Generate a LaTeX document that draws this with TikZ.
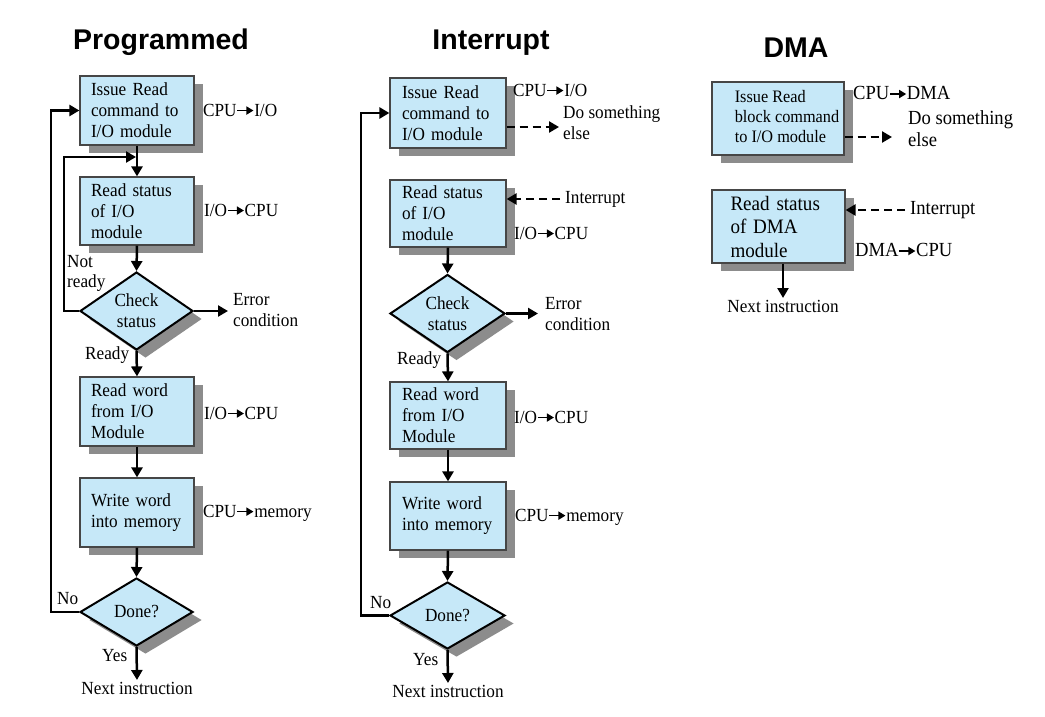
\documentclass[tikz,border=0pt]{standalone}
\usepackage{fontspec}
\setmainfont{Liberation Serif}[FakeStretch=0.93]
\newfontfamily\titlefont{Liberation Sans}
\usetikzlibrary{arrows.meta,shapes.geometric,shadows}
\definecolor{boxblue}{RGB}{198,232,248}
\definecolor{shadowgray}{RGB}{140,140,140}
\definecolor{boxedge}{RGB}{70,70,70}
\newcommand{\rarr}{\tikz[baseline={(0pt,-5.5pt)}]\draw[line width=1.6pt,-{Triangle[length=7pt,width=8pt]}] (0pt,0pt) -- (16pt,0pt);}
\newcommand{\nohyph}{\hyphenpenalty 10000\relax}
\tikzset{
  myshadow/.style={drop shadow={shadow xshift=9pt, shadow yshift=-8pt, fill=shadowgray, opacity=1}},
  procbox/.style={rectangle, draw=boxedge, line width=1.2pt, fill=boxblue, inner sep=0pt,
    align=left, font=\fontsize{18.5}{21}\selectfont\nohyph, myshadow},
  decision/.style={diamond, draw=black, line width=2pt, fill=boxblue, inner sep=0pt,
    align=center, font=\fontsize{18.5}{21}\selectfont, myshadow},
  flow/.style={line width=2.5pt, -{Triangle[length=10pt,width=11pt]}},
  dashflow/.style={flow, dash pattern=on 8pt off 5pt},
  lbl/.style={anchor=west, inner sep=0pt, align=left, font=\fontsize{18.5}{21}\selectfont},
  biglbl/.style={anchor=west, inner sep=0pt, align=left, font=\fontsize{20}{22}\selectfont},
  nextlbl/.style={anchor=north, inner sep=2pt, font=\fontsize{18.5}{21}\selectfont},
  ttl/.style={anchor=base, inner sep=0pt, font=\titlefont\bfseries\fontsize{28.5}{34}\selectfont},
}
\begin{document}
\begin{tikzpicture}[x=1pt,y=-1pt]
\useasboundingbox[fill=white] (0,0) rectangle (1045,717);

% titles
\node[ttl] (t1) at (161,49.5) {Programmed};
\node[ttl] (t2) at (491,49.5) {Interrupt};
\node[ttl] (t3) at (796,57.5) {DMA};

% ================= Programmed =================
\node[procbox, minimum width=114pt, minimum height=69pt, text width=92pt] (P1) at (137,110.5) {Issue Read\\command to\\I/O module};
\node[procbox, minimum width=114pt, minimum height=68pt, text width=92pt] (P2) at (137,211) {Read status\\of I/O\\module};
\node[decision, minimum width=113pt, minimum height=68pt] (PD1) at (136.5,311) {Check\\status};
\node[procbox, minimum width=114pt, minimum height=69pt, text width=92pt] (P3) at (137,411.5) {Read word\\from I/O\\Module};
\node[procbox, minimum width=114pt, minimum height=69pt, text width=92pt] (P4) at (137,512.5) {Write word\\into memory};
\node[decision, minimum width=113pt, minimum height=68pt] (PD2) at (136.5,612) {Done?};
\node[nextlbl] (Pnext) at (137,680) {Next instruction};

\node[lbl] (pl1) at (203,110) {CPU\rarr I/O};
\node[lbl] (pl2) at (204,210) {I/O\rarr CPU};
\node[lbl] (pl3) at (204,413) {I/O\rarr CPU};
\node[lbl] (pl4) at (203,513) {CPU\rarr memory};
\node[lbl, inner xsep=5pt] (perr) at (228,310.5) {Error\\condition};
\node[lbl, font=\fontsize{18.5}{20}\selectfont] (pnr) at (67,273) {Not\\ready};
\node[lbl] (prdy) at (85,355) {Ready};
\node[lbl] (pno) at (57,599) {No};
\node[lbl] (pyes) at (102,656) {Yes};

\coordinate (pjoin) at (137,157);
\draw[flow] (P1.south) -- (P2.north);
\draw[flow] (P2.south) -- (PD1.north);
\draw[flow] (PD1.south) -- (P3.north);
\draw[flow] (P3.south) -- (P4.north);
\draw[flow] (P4.south) -- (PD2.north);
\draw[flow] (PD2.south) -- (Pnext.north);
\draw[flow] (PD1.east) -- (PD1.east -| perr.west);
\draw[flow, shorten >=1pt] (PD1.west) -- ++(-15,0) |- (pjoin);
\draw[flow] (PD2.west) -- ++(-28,0) |- (P1.west);

% ================= Interrupt =================
\node[procbox, minimum width=116pt, minimum height=70pt, text width=92pt] (I1) at (448,113) {Issue Read\\command to\\I/O module};
\node[procbox, minimum width=116pt, minimum height=67pt, text width=92pt] (I2) at (448,213.5) {Read status\\of I/O\\module};
\node[decision, minimum width=115pt, minimum height=67pt] (ID1) at (447.5,313.5) {Check\\status};
\node[procbox, minimum width=116pt, minimum height=67pt, text width=92pt] (I3) at (448,415.5) {Read word\\from I/O\\Module};
\node[procbox, minimum width=116pt, minimum height=68pt, text width=92pt] (I4) at (448,516) {Write word\\into memory};
\node[decision, minimum width=115pt, minimum height=67pt] (ID2) at (447.5,615.5) {Done?};
\node[nextlbl] (Inext) at (448,683) {Next instruction};

\node[lbl] (il1) at (513,90) {CPU\rarr I/O};
\node[lbl, inner xsep=4pt] (isom) at (559,122.5) {Do something\\else};
\node[lbl, inner xsep=5pt] (iint) at (560,199) {Interrupt};
\node[lbl] (il2) at (514,233) {I/O\rarr CPU};
\node[lbl] (il3) at (514,417) {I/O\rarr CPU};
\node[lbl] (il4) at (515,517) {CPU\rarr memory};
\node[lbl, inner xsep=7pt] (ierr) at (538,314) {Error\\condition};
\node[lbl] (irdy) at (397,360) {Ready};
\node[lbl] (ino) at (370,603) {No};
\node[lbl] (iyes) at (413,660) {Yes};

\draw[dashflow] ([yshift=-14pt]I1.east) -- ([yshift=-14pt]I1.east -| isom.west);
\draw[dashflow] (iint.west) -- (iint.west -| I2.east);
\draw[flow] (I2.south) -- (ID1.north);
\draw[flow] (ID1.south) -- (I3.north);
\draw[flow] (I3.south) -- (I4.north);
\draw[flow] (I4.south) -- (ID2.north);
\draw[flow] (ID2.south) -- (Inext.north);
\draw[flow] (ID1.east) -- (ID1.east -| ierr.west);
\draw[flow] (ID2.west) -- ++(-28,0) |- (I1.west);

% ================= DMA =================
\node[procbox, align=none, minimum width=132pt, minimum height=73pt, font=\fontsize{17.5}{20}\selectfont\nohyph] (D1) at (778,118.5) {\hspace*{18pt}\begin{tabular}{@{}l@{}}Issue Read\\block command\\to I/O module\end{tabular}};
\node[procbox, minimum width=133pt, minimum height=73pt, text width=96pt, font=\fontsize{20.5}{23.5}\selectfont\nohyph] (D2) at (778.5,226.5) {Read status\\of DMA\\module};
\node[nextlbl] (Dnext) at (783,298) {Next instruction};

\node[biglbl] (dl1) at (853,93) {CPU\rarr DMA};
\node[biglbl, inner xsep=16pt] (dsom) at (892,129) {Do something\\else};
\node[biglbl, inner xsep=5pt] (dint) at (905,210) {Interrupt};
\node[biglbl] (dl2) at (855,250) {DMA\rarr CPU};

\draw[dashflow] ([yshift=-18.5pt]D1.east) -- ([yshift=-18.5pt]D1.east -| dsom.west);
\draw[dashflow] (dint.west) -- (dint.west -| D2.east);
\draw[flow] (Dnext.north |- D2.south) -- (Dnext.north);
\end{tikzpicture}
\end{document}
